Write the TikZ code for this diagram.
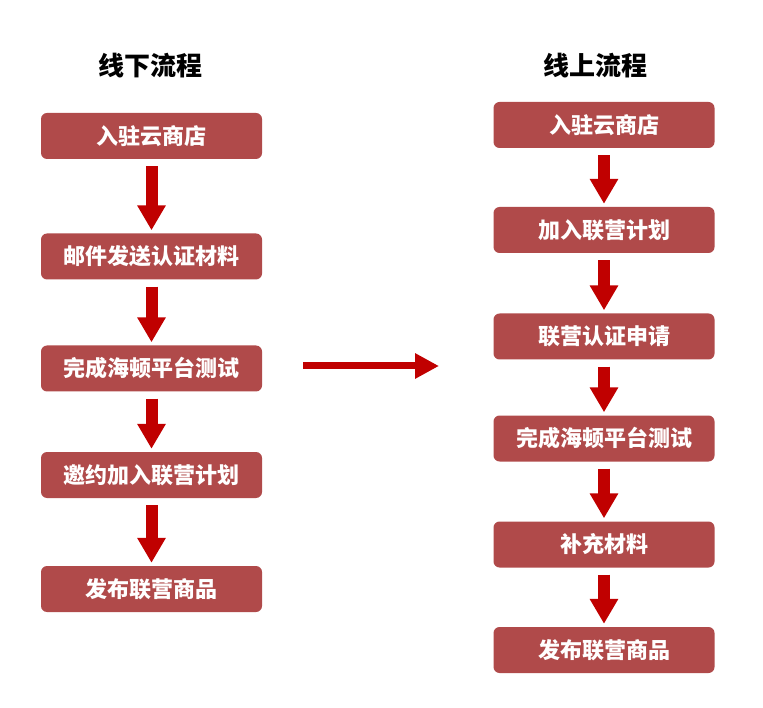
\documentclass[tikz,border=0pt]{standalone}
\usepackage{fontspec}
\setmainfont{Noto Sans CJK SC}
\usetikzlibrary{arrows.meta}
\definecolor{boxred}{HTML}{B04A4A}
\definecolor{arrowred}{HTML}{C00000}

\begin{document}
\begin{tikzpicture}[x=1pt, y=-1pt,
  flowbox/.style = {fill=boxred, rounded corners=6pt, inner sep=0pt,
    minimum width=221pt, minimum height=46pt, text=white,
    font=\bfseries\fontsize{22}{26}\selectfont},
  flowtitle/.style = {font=\bfseries\fontsize{26}{30}\selectfont},
  flowarrow/.style = {draw=arrowred, line width=12pt,
    -{Triangle[width=27pt,length=25pt]}, shorten <=7pt, shorten >=3pt}]
\useasboundingbox (0,0) rectangle (763,708);

\node[flowtitle] (offtitle) at (150,66) {线下流程};
\node[flowtitle] (ontitle) at (595,66) {线上流程};

% offline
\node[flowbox] (off1) at (151.5,136) {入驻云商店};
\node[flowbox] (off2) at (151.5,256.5) {邮件发送认证材料};
\node[flowbox] (off3) at (151.5,368.5) {完成海顿平台测试};
\node[flowbox] (off4) at (151.5,475) {邀约加入联营计划};
\node[flowbox] (off5) at (151.5,589) {发布联营商品};

\draw[flowarrow] (off1) -- (off2);
\draw[flowarrow] (off2) -- (off3);
\draw[flowarrow] (off3) -- (off4);
\draw[flowarrow] (off4) -- (off5);

% online
\node[flowbox] (on1) at (604,125) {入驻云商店};
\node[flowbox] (on2) at (604,230) {加入联营计划};
\node[flowbox] (on3) at (604,336.5) {联营认证申请};
\node[flowbox] (on4) at (604,438.5) {完成海顿平台测试};
\node[flowbox] (on5) at (604,544.5) {补充材料};
\node[flowbox] (on6) at (604,650) {发布联营商品};

\draw[flowarrow] (on1) -- (on2);
\draw[flowarrow] (on2) -- (on3);
\draw[flowarrow] (on3) -- (on4);
\draw[flowarrow] (on4) -- (on5);
\draw[flowarrow] (on5) -- (on6);

\coordinate (gofrom) at (303,366);
\coordinate (goto) at (439,366);
\draw[draw=arrowred, line width=7pt, -{Triangle[width=24pt,length=24pt]}] (gofrom) -- (goto);

\end{tikzpicture}
\end{document}
